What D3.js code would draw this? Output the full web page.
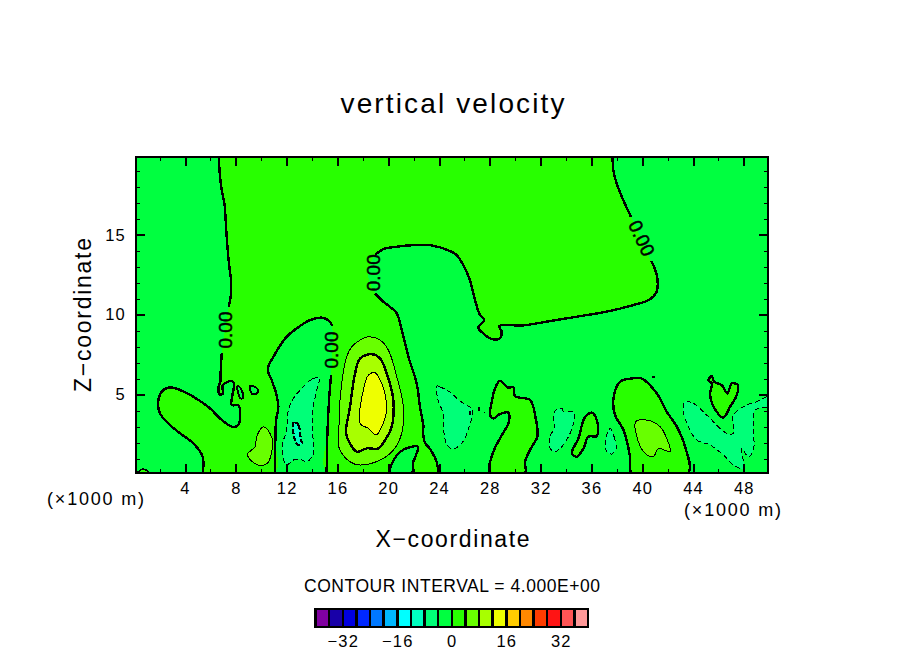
<!DOCTYPE html>
<html>
<head>
<meta charset="utf-8">
<script src="https://d3js.org/d3.v7.min.js"></script>
<style>
  html, body { margin: 0; padding: 0; background: #fff; }
  svg { display: block; }
  text { font-family: "Liberation Sans", sans-serif; fill: #000; }
</style>
</head>
<body>
<script>
// Everything below is in data units: x and z in km, levels in the plotted unit.
const xDomain = [0.14, 49.9];
const zDomain = [0.1, 19.86];
const xMajor = [4, 8, 12, 16, 20, 24, 28, 32, 36, 40, 44, 48];
const xMinor = [2, 6, 10, 14, 18, 22, 26, 30, 34, 38, 42, 46];
const zMajor = [5, 10, 15];
const zMinor = [1, 2, 3, 4, 6, 7, 8, 9, 11, 12, 13, 14, 16, 17, 18, 19];

const legendLevels = [-40, -36, -32, -28, -24, -20, -16, -12, -8, -4, 0, 4, 8, 12, 16, 20, 24, 28, 32, 36];
const legendColors = ["#8000a0", "#1800a8", "#0000e0", "#0028ff", "#0078ff", "#00b8ff", "#00ffff", "#00ffc0", "#00ff78", "#00ff40",
                      "#28ff00", "#68ff00", "#a8ff00", "#eeff00", "#ffcc00", "#ff8800", "#ff3c00", "#ff1414", "#ff5555", "#ff9999"];
const legendTicks = [-32, -16, 0, 16, 32];

// zero contour, split where the labels break it
const zeroTopLeft = [[6.65,19.86],[6.76,18.62],[6.89,17.79],[7.10,16.96],[7.23,15.50],[7.36,14.04],[7.49,13.0],[7.62,12.17],[7.62,11.33],[7.44,10.46]];
const zeroLobe = [[6.89,7.58],[6.81,6.53],[6.76,5.70],[6.68,5.64],[6.68,5.04],[6.97,5.04],[6.97,5.60],[7.68,5.85],[7.86,5.70],[7.68,4.35],[8.20,4.35],[8.20,3.10],[7.68,3.0],[6.76,3.51],[5.97,4.14],[4.66,4.87],[3.61,5.29],[2.95,5.45],[2.29,5.29],[1.90,4.66],[2.03,3.83],[2.82,3.10],[3.61,2.58],[4.66,1.95],[5.39,1.12],[5.39,0.1]];
const zeroDomeLeft = [[11.09,0.1],[11.11,2.16],[11.17,3.41],[11.35,4.24],[11.17,5.08],[10.82,5.91],[10.51,6.58],[10.96,7.37],[12.0,8.62],[12.79,9.14],[13.84,9.66],[14.76,9.81],[15.42,9.56],[15.58,9.28]];
const zeroDomeRight = [[15.50,6.22],[15.34,4.66],[15.21,2.58],[15.15,0.1]];
const zeroEastLow = [[23.92,0.1],[23.84,0.73],[23.29,1.6],[22.9,1.98],[22.74,2.79],[22.77,2.99],[22.5,4.24],[22.24,5.70],[21.59,7.37],[21.06,9.03],[20.67,10.08],[19.62,10.81],[18.96,11.33]];
const zeroGapBulge = [[18.4,12.6]];
const zeroEastHigh = [[18.96,13.73],[19.62,14.10],[20.67,14.25],[21.98,14.35],[23.29,14.35],[24.87,13.98],[25.38,13.73],[25.91,13.10],[26.43,12.17],[26.83,10.92],[27.22,9.98],[27.56,9.66],[27.09,9.19],[27.48,8.83],[28.14,8.48],[28.80,8.52],[28.93,8.94],[28.74,9.29],[30.63,9.33],[32.73,9.60],[35.36,9.94],[37.2,10.19],[39.3,10.6],[40.61,10.96],[41.13,11.44],[41.19,12.27],[40.92,13.0],[40.69,13.37]];
const zeroTopRight = [[39.11,16.12],[38.51,17.16],[37.98,18.21],[37.72,19.04],[37.67,19.86]];

// closed zero contours
const zeroCorner = [[0.25,0.1],[0.72,0.35],[1.19,0.1]];
const zeroIslandA = [[8.12,5.53],[8.33,5.45],[8.59,4.83],[8.38,4.76],[8.2,5.08]];
const zeroIslandB = [[9.12,5.53],[9.59,5.45],[9.77,5.18],[9.38,5.01],[9.17,5.18]];
const zeroPocket = [[20.14,0.1],[20.53,1.04],[20.93,1.41],[21.48,1.66],[22.35,1.73],[22.19,1.23],[21.95,0.73],[21.87,0.1]];
const zeroBlob29 = [[28.02,0.1],[28.23,1.33],[28.94,2.47],[29.46,3.2],[29.46,3.87],[28.8,3.79],[28.28,3.51],[28.02,3.72],[28.15,4.56],[28.41,5.39],[28.8,5.87],[29.46,5.43],[29.85,5.49],[29.99,4.91],[31.17,4.66],[31.56,3.72],[31.74,2.37],[31.3,1.74],[30.77,0.8],[30.77,0.1]];
const zeroBlob36 = [[35.63,3.72],[36.02,3.87],[36.42,3.41],[36.42,2.41],[35.76,2.37],[35.37,1.64],[34.84,1.12],[34.45,1.33],[34.97,2.26],[35.37,3.41]];
const zeroBlob41 = [[39.17,0.1],[39.04,1.12],[38.52,2.79],[37.86,3.72],[37.73,4.76],[38.25,5.81],[39.17,6.01],[39.96,6.01],[41.14,5.08],[41.93,3.93],[42.72,3.0],[43.37,1.74],[43.63,0.1]];
const zeroBlob46 = [[45.21,5.91],[45.47,6.16],[45.65,5.81],[46.26,5.6],[46.7,5.08],[47.05,5.7],[47.52,5.6],[47.44,4.97],[46.91,4.24],[46.39,3.56],[45.86,3.93],[45.34,4.97],[45.47,5.7]];
const zeroSpecks = [[[40.75,6.08],[41.0,6.08]], [[27.12,4.2],[27.12,3.95]], [[26.45,3.95],[26.45,3.75]], [[27.55,3.9],[27.6,3.85]]];

// level +4 (thin), +8 (thick), +12 (thin)
const plusFourWest = [[8.91,1.28],[9.51,1.74],[9.64,2.37],[10.17,2.99],[10.69,2.58],[10.9,1.95],[10.48,0.70],[9.77,0.60],[9.12,0.95]];
const plusFourPeak = [[16.07,1.95],[16.15,3.41],[16.2,4.66],[16.73,7.37],[17.12,7.99],[17.78,8.41],[18.44,8.62],[19.36,8.41],[20.01,7.79],[20.67,6.12],[21.19,4.24],[21.06,2.58],[20.4,1.53],[19.36,0.91],[17.78,0.6],[16.99,0.8],[16.2,1.53]];
const plusFourEast = [[39.49,3.31],[40.35,3.41],[41.4,3.0],[41.93,2.26],[42.19,1.43],[41.27,1.64],[40.88,1.12],[40.22,1.33],[39.57,2.37]];
const plusEightPeak = [[16.68,2.58],[16.99,4.24],[17.39,6.33],[17.78,7.26],[18.70,7.53],[19.36,7.26],[19.88,6.33],[20.4,4.66],[20.27,2.99],[19.75,2.16],[19.22,1.64],[18.31,1.64],[17.52,1.43],[16.99,1.95]];
const plusTwelvePeak = [[17.78,3.2],[18.04,5.28],[18.44,6.22],[18.96,6.37],[19.49,5.7],[19.83,4.66],[19.83,3.83],[19.49,2.99],[19.04,2.47],[18.44,2.89]];

// level -4 (thin dashed), -8 (thick dashed)
const minusFourDome = [[14.58,6.06],[13.97,5.95],[13.06,5.28],[12.53,4.76],[12.14,4.03],[12.0,2.78],[11.69,1.95],[11.69,1.12],[12.0,0.6],[12.53,0.91],[13.06,0.95],[13.58,0.8],[14.11,1.33],[14.05,2.58],[14.05,4.03],[14.37,5.28]];
const minusFour25 = [[23.84,5.54],[24.08,5.48],[24.86,5.16],[25.65,4.6],[26.6,4.04],[26.28,2.79],[25.81,1.98],[25.1,1.6],[24.63,1.85],[24.39,2.6],[24.31,3.85],[23.92,4.66]];
const minusFour34 = [[33.13,3.99],[33.66,4.14],[33.79,3.93],[34.58,3.93],[34.58,3.2],[34.19,2.37],[33.66,1.74],[33.13,1.43],[32.74,1.64],[32.74,2.37],[33.13,3.0],[33.0,3.51]];
const minusFour38 = [[37.47,2.89],[37.78,2.37],[37.94,1.64],[37.6,1.29],[37.2,1.43],[37.12,2.16]];
const minusFourEast = [[43.37,4.56],[44.03,4.45],[45.08,3.72],[46.65,2.58],[47.18,2.58],[47.18,3.72],[48.23,4.35],[49.01,4.56],[49.9,4.87],[50.4,4.6],[49.9,4.24],[48.88,4.03],[48.75,3.0],[48.75,1.53],[48.36,1.12],[47.83,1.64],[47.96,0.39],[47.18,0.6],[46.39,1.22],[45.34,1.85],[44.29,2.16],[43.63,3.0],[43.24,3.93]];
const minusEightDome = [[12.58,3.31],[12.92,3.1],[13.11,2.26],[13.19,1.95],[12.92,1.85],[12.58,2.37]];

// "0.00" labels along the zero line: x, z, rotation
const labelSpots = [[7.15, 9.04, -90], [15.49, 7.79, -90], [18.82, 12.62, -90], [39.96, 14.79, 65]];

var width = 904, height = 654;
var plot = {left: 136, right: 768, top: 157, bottom: 473};

var svg = d3.select("body").append("svg")
    .attr("width", width)
    .attr("height", height);

var x = d3.scaleLinear().domain(xDomain).range([plot.left, plot.right]);
var z = d3.scaleLinear().domain(zDomain).range([plot.bottom, plot.top]);

// colour of the band that starts at a level
var bandColor = d3.scaleOrdinal().domain(legendLevels).range(legendColors);

var openLine = d3.line().x(d => x(d[0])).y(d => z(d[1])).curve(d3.curveCatmullRom.alpha(0.5));
var closedLine = d3.line().x(d => x(d[0])).y(d => z(d[1])).curve(d3.curveCatmullRomClosed.alpha(0.5));

svg.append("clipPath").attr("id", "plot-clip").append("rect")
    .attr("x", plot.left).attr("y", plot.top)
    .attr("width", plot.right - plot.left).attr("height", plot.bottom - plot.top);

var field = svg.append("g").attr("clip-path", "url(#plot-clip)")
    .attr("shape-rendering", "crispEdges");

// background band, below zero
field.append("rect")
    .attr("x", plot.left).attr("y", plot.top)
    .attr("width", plot.right - plot.left).attr("height", plot.bottom - plot.top)
    .attr("fill", bandColor(-4));

// the big positive area is one polygon put together from the broken line pieces
var bigArea = [].concat(zeroTopLeft, zeroLobe, zeroDomeLeft, zeroDomeRight, zeroEastLow, zeroGapBulge, zeroEastHigh, zeroTopRight);
field.append("path")
    .attr("d", openLine(bigArea) + "Z")
    .attr("fill", bandColor(0));

var zeroPieces = [zeroTopLeft, zeroLobe, zeroDomeLeft, zeroDomeRight, zeroEastLow, zeroEastHigh, zeroTopRight];
field.selectAll("path.zero")
    .data(zeroPieces)
  .enter().append("path")
    .attr("class", "zero")
    .attr("d", openLine)
    .attr("fill", "none")
    .attr("stroke", "#000")
    .attr("stroke-width", 2.4);

// closed contours, painted from the outside in
var closedShapes = [
  {pts: zeroCorner, band: 0, w: 1.5},
  {pts: zeroIslandA, band: -4, w: 2},
  {pts: zeroIslandB, band: -4, w: 2},
  {pts: zeroPocket, band: -4, w: 2.4},
  {pts: zeroBlob29, band: 0, w: 2.4},
  {pts: zeroBlob36, band: 0, w: 2.4},
  {pts: zeroBlob41, band: 0, w: 2.4},
  {pts: zeroBlob46, band: 0, w: 2.4},
  {pts: plusFourWest, band: 4, w: 1},
  {pts: plusFourPeak, band: 4, w: 1},
  {pts: plusFourEast, band: 4, w: 1},
  {pts: plusEightPeak, band: 8, w: 2.4},
  {pts: plusTwelvePeak, band: 12, w: 1},
  {pts: minusFourDome, band: -8, w: 1, dash: "5,3"},
  {pts: minusFour25, band: -8, w: 1, dash: "5,3"},
  {pts: minusFour34, band: -8, w: 1, dash: "5,3"},
  {pts: minusFour38, band: -8, w: 1, dash: "5,3"},
  {pts: minusFourEast, band: -8, w: 1, dash: "5,3"},
  {pts: minusEightDome, band: -12, w: 2.2, dash: "5,2"}
];

field.selectAll("path.shape")
    .data(closedShapes)
  .enter().append("path")
    .attr("class", "shape")
    .attr("d", d => closedLine(d.pts))
    .attr("fill", d => bandColor(d.band))
    .attr("stroke", "#000")
    .attr("stroke-width", d => d.w)
    .attr("stroke-dasharray", d => d.dash || null);

field.selectAll("path.speck")
    .data(zeroSpecks)
  .enter().append("path")
    .attr("class", "speck")
    .attr("d", d3.line().x(d => x(d[0])).y(d => z(d[1])))
    .attr("fill", "none")
    .attr("stroke", "#000")
    .attr("stroke-width", 2);

// contour labels
svg.selectAll("text.clabel")
    .data(labelSpots)
  .enter().append("text")
    .attr("class", "clabel")
    .attr("transform", d => "translate(" + x(d[0]) + "," + z(d[1]) + ") rotate(" + d[2] + ")")
    .attr("text-anchor", "middle")
    .attr("dy", "0.36em")
    .attr("font-size", 19)
    .attr("textLength", 37)
    .attr("lengthAdjust", "spacing")
    .attr("stroke", "#000")
    .attr("stroke-width", 0.5)
    .text("0.00");

// Axes: ticks point into the plot on all four sides
function styleAxis(g) {
  g.selectAll(".domain").remove();
  g.selectAll("line").attr("stroke", "#000").attr("stroke-width", 2).attr("shape-rendering", "crispEdges");
  g.selectAll("text").attr("font-size", 16.5).attr("letter-spacing", "1.2px").attr("font-family", "Liberation Sans");
}
function styleMinor(g) {
  g.selectAll(".domain").remove();
  g.selectAll("line").attr("stroke", "#000").attr("stroke-width", 1).attr("shape-rendering", "crispEdges");
}

svg.append("g").attr("transform", "translate(0," + plot.bottom + ")")
    .call(d3.axisBottom(x).tickValues(xMajor).tickSizeInner(-9).tickSizeOuter(0).tickPadding(9).tickFormat(d3.format("d")))
    .call(styleAxis);
svg.append("g").attr("transform", "translate(0," + plot.bottom + ")")
    .call(d3.axisBottom(x).tickValues(xMinor).tickSizeInner(-4).tickSizeOuter(0).tickFormat(""))
    .call(styleMinor);
svg.append("g").attr("transform", "translate(0," + plot.top + ")")
    .call(d3.axisTop(x).tickValues(xMajor).tickSizeInner(-9).tickSizeOuter(0).tickFormat(""))
    .call(styleAxis);
svg.append("g").attr("transform", "translate(0," + plot.top + ")")
    .call(d3.axisTop(x).tickValues(xMinor).tickSizeInner(-4).tickSizeOuter(0).tickFormat(""))
    .call(styleMinor);
svg.append("g").attr("transform", "translate(" + plot.left + ",0)")
    .call(d3.axisLeft(z).tickValues(zMajor).tickSizeInner(-9).tickSizeOuter(0).tickPadding(10).tickFormat(d3.format("d")))
    .call(styleAxis);
svg.append("g").attr("transform", "translate(" + plot.left + ",0)")
    .call(d3.axisLeft(z).tickValues(zMinor).tickSizeInner(-4).tickSizeOuter(0).tickFormat(""))
    .call(styleMinor);
svg.append("g").attr("transform", "translate(" + plot.right + ",0)")
    .call(d3.axisRight(z).tickValues(zMajor).tickSizeInner(-9).tickSizeOuter(0).tickFormat(""))
    .call(styleAxis);
svg.append("g").attr("transform", "translate(" + plot.right + ",0)")
    .call(d3.axisRight(z).tickValues(zMinor).tickSizeInner(-4).tickSizeOuter(0).tickFormat(""))
    .call(styleMinor);

svg.append("rect")
    .attr("x", plot.left).attr("y", plot.top)
    .attr("width", plot.right - plot.left).attr("height", plot.bottom - plot.top)
    .attr("fill", "none")
    .attr("stroke", "#000")
    .attr("stroke-width", 2.4)
    .attr("shape-rendering", "crispEdges");

// plain text, fitted to the width it has in the picture
function addText(str, px, py, size, len, rot) {
  var t = svg.append("text")
      .attr("text-anchor", "middle")
      .attr("font-size", size)
      .attr("textLength", len)
      .attr("lengthAdjust", "spacing")
      .text(str);
  t.attr("transform", "translate(" + px + "," + py + ")" + (rot ? " rotate(" + rot + ")" : ""));
}
addText("vertical velocity", 452.5, 113, 28, 224);
addText("X\u2212coordinate", 452.5, 547, 23, 154);
addText("Z\u2212coordinate", 91, 315, 23, 154, -90);
addText("(\u00d71000 m)", 95.5, 505, 18, 97);
addText("(\u00d71000 m)", 732.5, 516, 18, 97);
addText("CONTOUR INTERVAL = 4.000E+00", 452, 592, 17.5, 296);

// Legend bar
var legendX = d3.scaleLinear().domain([-40, 40]).range([315.5, 588]);
var legendBox = {top: 609, bottom: 627};
svg.selectAll("rect.cell")
    .data(legendLevels)
  .enter().append("rect")
    .attr("class", "cell")
    .attr("x", d => legendX(d))
    .attr("y", legendBox.top)
    .attr("width", d => legendX(d + 4) - legendX(d))
    .attr("height", legendBox.bottom - legendBox.top)
    .attr("fill", d => bandColor(d))
    .attr("stroke", "#000")
    .attr("stroke-width", 2.5)
    .attr("shape-rendering", "crispEdges");

svg.append("g").attr("transform", "translate(0," + legendBox.bottom + ")")
    .call(d3.axisBottom(legendX).tickValues(legendTicks).tickSize(0).tickPadding(8).tickFormat(d3.format("d")))
    .call(styleAxis);
</script>
</body>
</html>
